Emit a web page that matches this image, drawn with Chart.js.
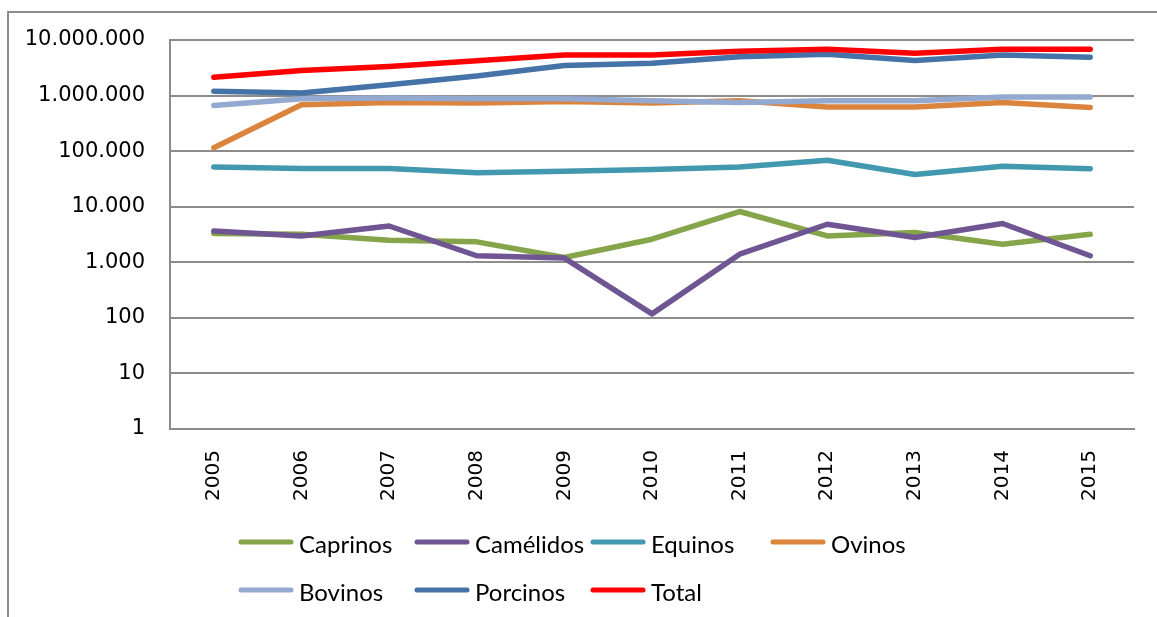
<!DOCTYPE html>
<html>
<head>
<meta charset="utf-8">
<script src="https://cdn.jsdelivr.net/npm/chart.js@4/dist/chart.umd.min.js"></script>
<style>
  html, body { margin: 0; padding: 0; background: #fff; }
  #wrap { position: relative; width: 1157px; height: 617px; }
</style>
</head>
<body>
<div id="wrap"><canvas id="grafico"></canvas></div>
<script>
// Datos (escala logarítmica)
const years = ['2005', '2006', '2007', '2008', '2009', '2010', '2011', '2012', '2013', '2014', '2015'];
const caprinos = [3300, 3200, 2500, 2330, 1220, 2600, 8200, 2980, 3430, 2120, 3200];
const camelidos = [3670, 2980, 4500, 1310, 1190, 118, 1400, 4840, 2790, 4980, 1310];
const equinos = [52000, 48800, 48800, 40800, 43600, 46800, 52000, 68700, 38000, 53700, 48200];
const ovinos = [115000, 684000, 752000, 733000, 784000, 733000, 807000, 622000, 622000, 752000, 612000];
const bovinos = [665000, 877000, 900000, 877000, 877000, 807000, 752000, 807000, 807000, 940000, 940000];
const porcinos = [1190000, 1110000, 1560000, 2260000, 3470000, 3820000, 5000000, 5540000, 4260000, 5380000, 4900000];
const total = [2140000, 2820000, 3330000, 4250000, 5380000, 5380000, 6300000, 6800000, 5760000, 6800000, 6800000];

const seriesNames = ['Caprinos', 'Camélidos', 'Equinos', 'Ovinos', 'Bovinos', 'Porcinos', 'Total'];
const seriesColors = ['#86a44a', '#6f5592', '#4198af', '#db843d', '#93a9cf', '#4572a7', '#ff0000'];
const yTicks = [1, 10, 100, 1000, 10000, 100000, 1000000, 10000000];

const GRID = '#8c8c8c';

// Formato con punto como separador de miles
function fmt(v) {
  return String(Math.round(v)).replace(/\B(?=(\d{3})+(?!\d))/g, '.');
}

const allSeries = [caprinos, camelidos, equinos, ovinos, bovinos, porcinos, total];

const datasets = allSeries.map((values, i) => ({
  label: seriesNames[i],
  data: values,
  borderColor: seriesColors[i],
  backgroundColor: seriesColors[i],
  borderWidth: 5.5,
  borderCapStyle: 'round',
  borderJoinStyle: 'round',
  pointRadius: 0,
  tension: 0,
  fill: false,
  // las series posteriores se dibujan encima
  order: allSeries.length - i
}));

// Marco exterior + leyenda en rejilla (estilo Excel)
const excelLook = {
  id: 'excelLook',
  afterDraw(chart) {
    const ctx = chart.ctx;
    ctx.save();

    // marco exterior
    ctx.strokeStyle = '#8c8c8c';
    ctx.lineWidth = 2;
    ctx.beginPath();
    ctx.moveTo(8, 640);
    ctx.lineTo(8, 12);
    ctx.lineTo(1180, 12);
    ctx.stroke();

    // leyenda
    const colX = [239, 415, 591, 771];
    const rowY = [542, 590];
    ctx.font = '24px Lato, "Liberation Sans", sans-serif';
    ctx.textBaseline = 'middle';
    ctx.textAlign = 'left';
    chart.data.datasets.forEach((ds, i) => {
      const x = colX[i % 4];
      const y = rowY[Math.floor(i / 4)];
      ctx.strokeStyle = ds.borderColor;
      ctx.lineWidth = 5;
      ctx.lineCap = 'round';
      ctx.beginPath();
      ctx.moveTo(x + 2, y);
      ctx.lineTo(x + 52, y);
      ctx.stroke();
      ctx.fillStyle = '#000';
      ctx.fillText(ds.label, x + 60, y + 3);
    });

    ctx.restore();
  }
};

new Chart(document.getElementById('grafico'), {
  type: 'line',
  data: {
    labels: years,
    datasets: datasets
  },
  options: {
    responsive: true,
    maintainAspectRatio: false,
    animation: false,
    layout: {
      padding: { top: 40, right: 23, bottom: 98, left: 0 }
    },
    plugins: {
      legend: { display: false },
      tooltip: { enabled: false }
    },
    scales: {
      x: {
        offset: true,
        grid: { display: false, drawTicks: false },
        border: { display: true, color: GRID, width: 2 },
        ticks: {
          color: '#000',
          font: { family: '"DejaVu Sans", Verdana, sans-serif', size: 20 },
          minRotation: 90,
          maxRotation: 90,
          autoSkip: false,
          padding: 21
        },
        afterFit(scale) { scale.height = 90; }
      },
      y: {
        type: 'logarithmic',
        min: 1,
        max: 10000000,
        grid: { color: GRID, lineWidth: 2, drawTicks: false },
        border: { display: true, color: GRID, width: 2 },
        ticks: {
          color: '#000',
          font: { family: '"DejaVu Sans", Verdana, sans-serif', size: 21 },
          padding: 25,
          callback: (value) => fmt(value)
        },
        afterBuildTicks(scale) {
          scale.ticks = yTicks.map(v => ({ value: v, major: false }));
        },
        afterFit(scale) { scale.width = 170; }
      }
    }
  },
  plugins: [excelLook]
});
</script>
</body>
</html>
